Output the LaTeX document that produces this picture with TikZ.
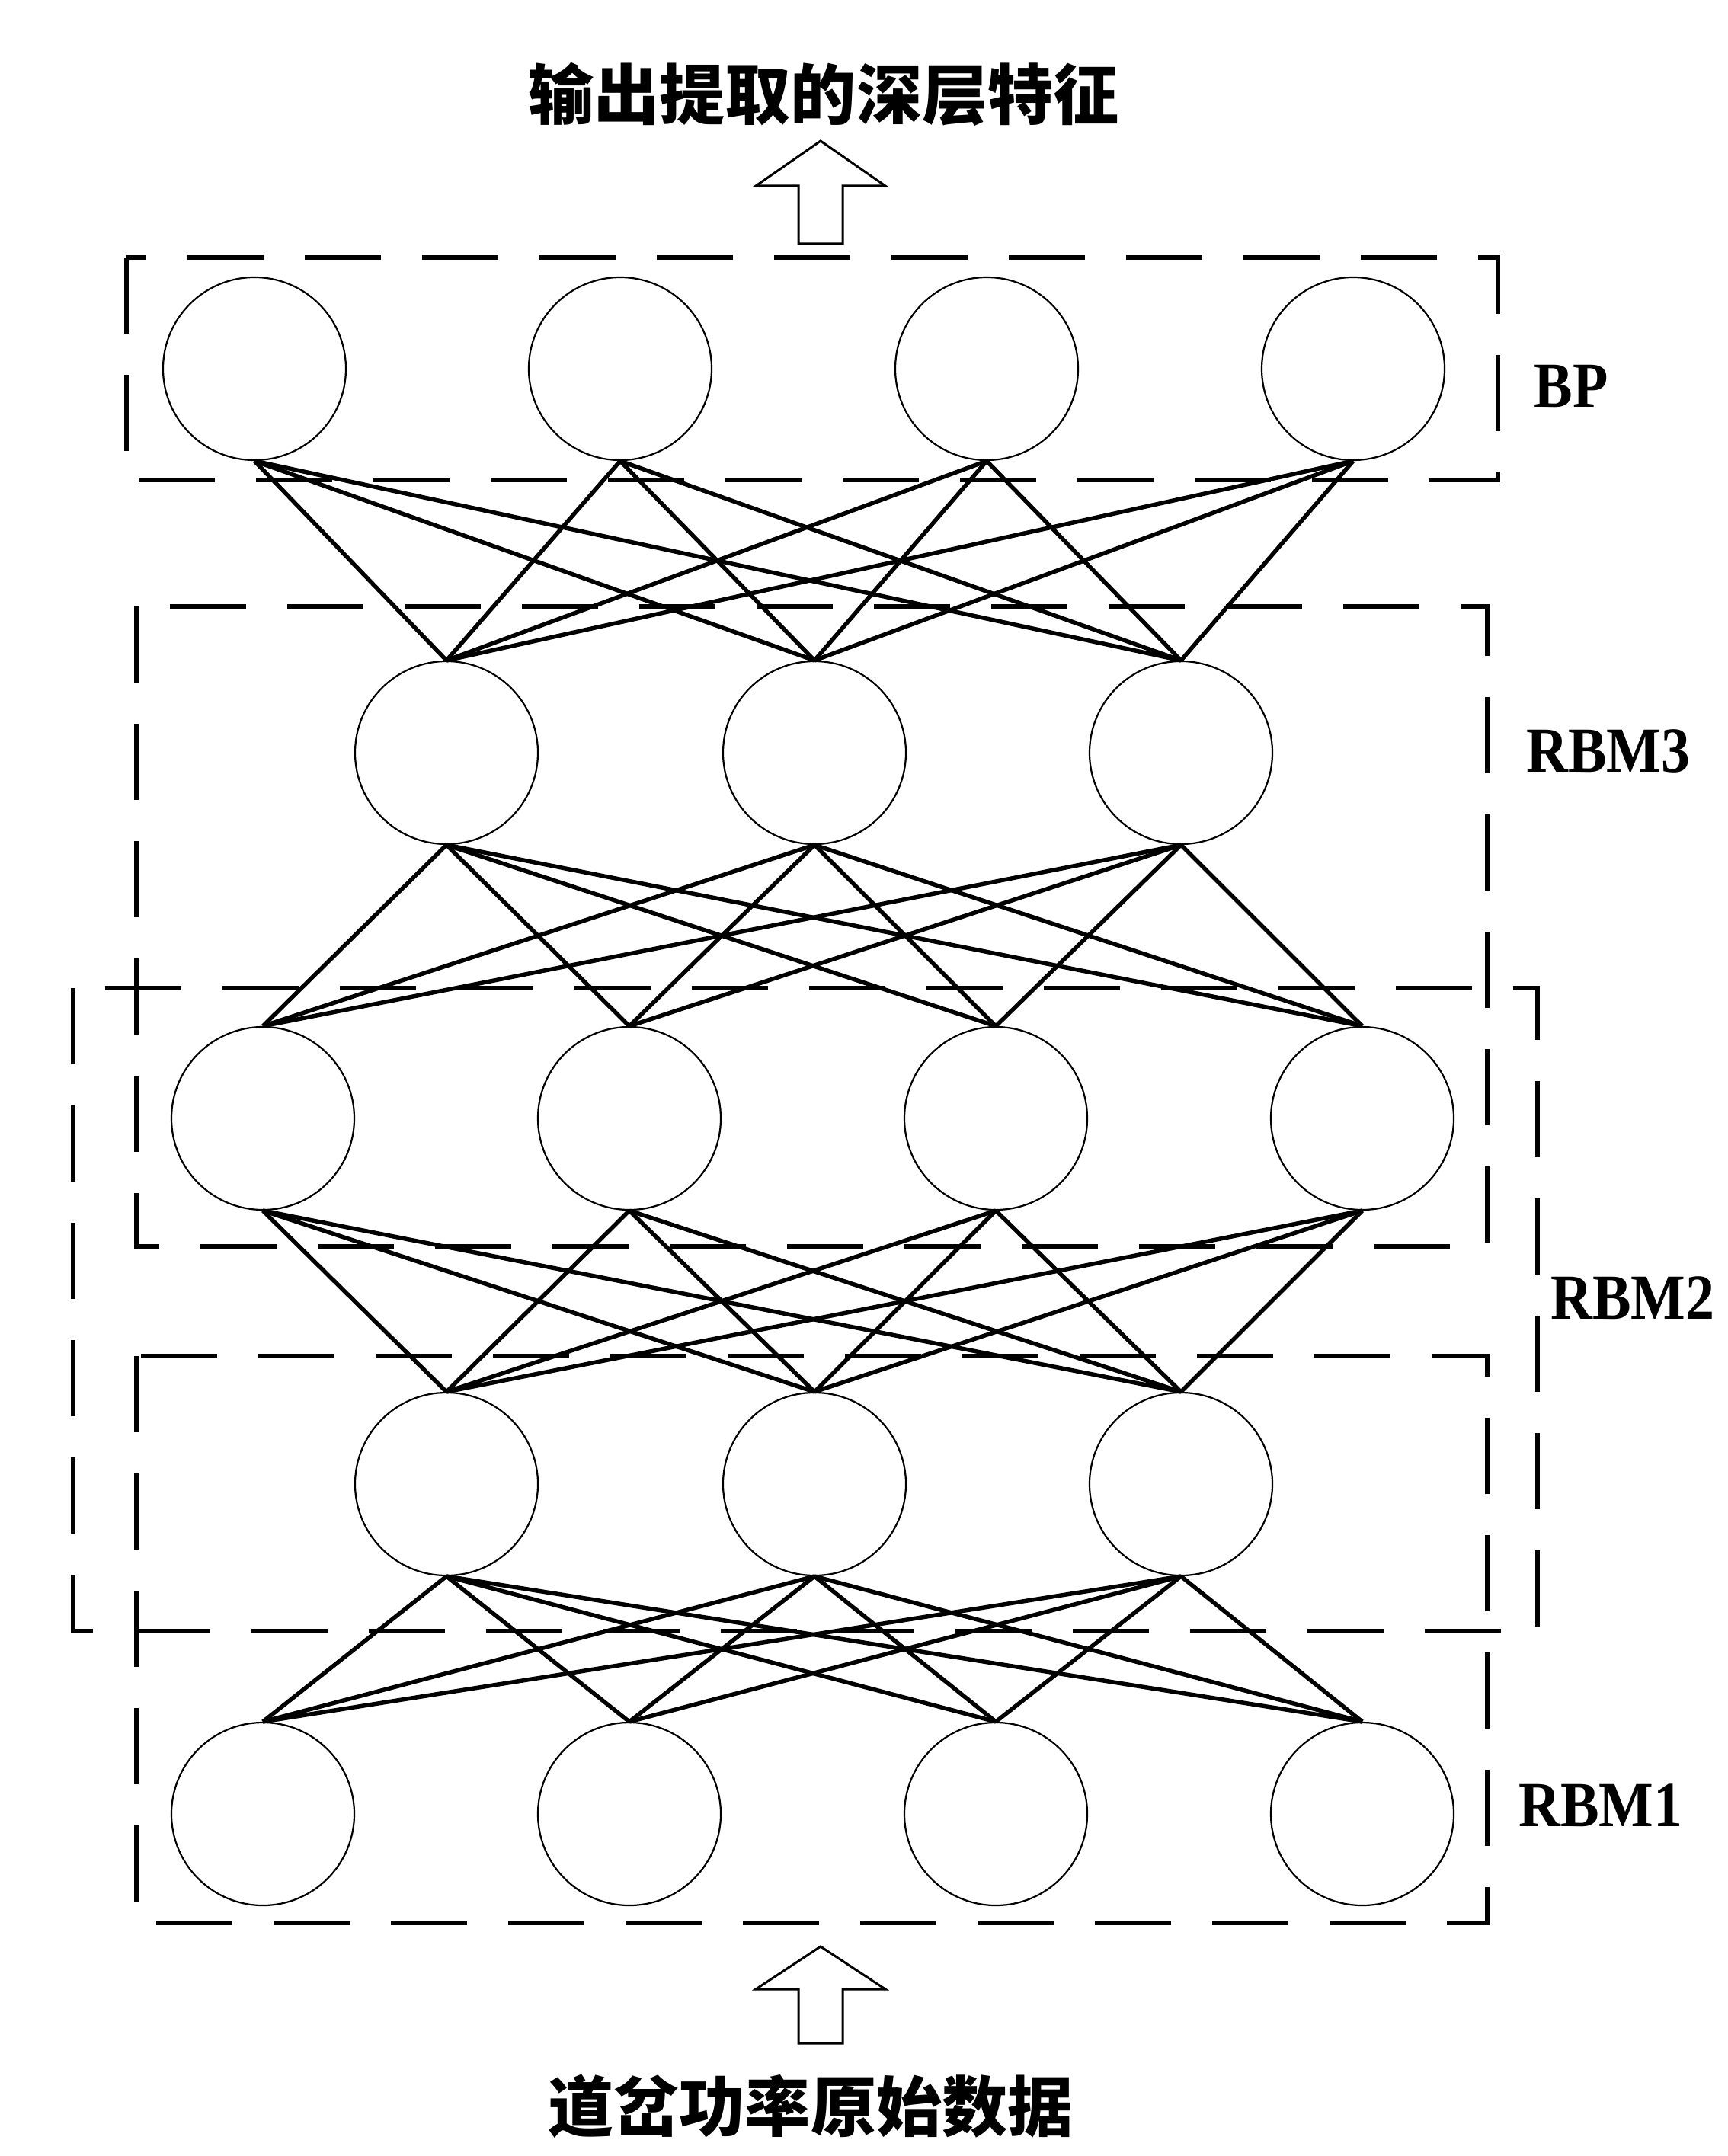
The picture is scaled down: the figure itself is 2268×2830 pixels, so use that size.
\documentclass[tikz,border=0pt]{standalone}
\usepackage{fontspec}
\setmainfont{Liberation Serif}
\newfontfamily\cjk{Noto Sans CJK SC}
\newfontfamily\lblfont{Liberation Serif}[FakeStretch=0.9]
\usepackage{tikz}
\tikzset{neuron/.style={circle,draw,line width=0.22mm,minimum size=24mm,inner sep=0pt},
         link/.style={line width=0.55mm},
         layerbox/.style={line width=0.6mm,dash pattern=on 10mm off 5.4mm},
         hollow/.style={line width=0.3mm,line join=miter},
         lbl/.style={font=\fontsize{24}{28}\selectfont\lblfont\bfseries},
         captext/.style={font=\fontsize{24.5}{30}\selectfont\cjk\bfseries}
}

\begin{document}
\begin{tikzpicture}[x=0.1mm,y=-0.1mm]
  \useasboundingbox (0,0) rectangle (2268,2830);
  % dashed boxes round the layers
  \draw[layerbox] (166,338) rectangle (1966,630);
  \draw[layerbox] (179,796) rectangle (1952,1636);
  \draw[layerbox] (96,1297) rectangle (2018,2141);
  \draw[layerbox] (179,1780) rectangle (1952,2524);

  % neurons, top to bottom
  \foreach \i/\x in {1/334,2/814,3/1295,4/1776}
    \node[neuron] (bp\i) at (\x,484) {};
  \foreach \i/\x in {1/586,2/1069,3/1550}
    \node[neuron] (ha\i) at (\x,988) {};
  \foreach \i/\x in {1/345,2/826,3/1307,4/1788}
    \node[neuron] (hb\i) at (\x,1468) {};
  \foreach \i/\x in {1/586,2/1069,3/1550}
    \node[neuron] (hc\i) at (\x,1948) {};
  \foreach \i/\x in {1/345,2/826,3/1307,4/1788}
    \node[neuron] (vis\i) at (\x,2381) {};

  % weights
  \foreach \i in {1,...,4}
    \foreach \j in {1,2,3} {
      \draw[link] (bp\i.south) -- (ha\j.north);
      \draw[link] (ha\j.south) -- (hb\i.north);
      \draw[link] (hb\i.south) -- (hc\j.north);
      \draw[link] (hc\j.south) -- (vis\i.north);
    }

  % layer names
  \node[lbl] (bplbl) at (2062,507) {BP};
  \node[lbl] (rbm3lbl) at (2111,986) {RBM3};
  \node[lbl] (rbm2lbl) at (2143,1704) {RBM2};
  \node[lbl] (rbm1lbl) at (2101,2370) {RBM1};

  % output and input
  \node[captext] (outtxt) at (1081,124) {输出提取的深层特征};
  \node[captext] (intxt) at (1064,2765) {道岔功率原始数据};
  \coordinate (uptip) at (1077,185);
  \draw[hollow] (uptip) -- ++(85,59) -- ++(-56,0) -- ++(0,76) -- ++(-58,0)
    -- ++(0,-76) -- ++(-56,0) -- cycle;
  \coordinate (intip) at (1077,2555);
  \draw[hollow] (intip) -- ++(85,56) -- ++(-56,0) -- ++(0,71) -- ++(-58,0)
    -- ++(0,-71) -- ++(-56,0) -- cycle;
\end{tikzpicture}
\end{document}
